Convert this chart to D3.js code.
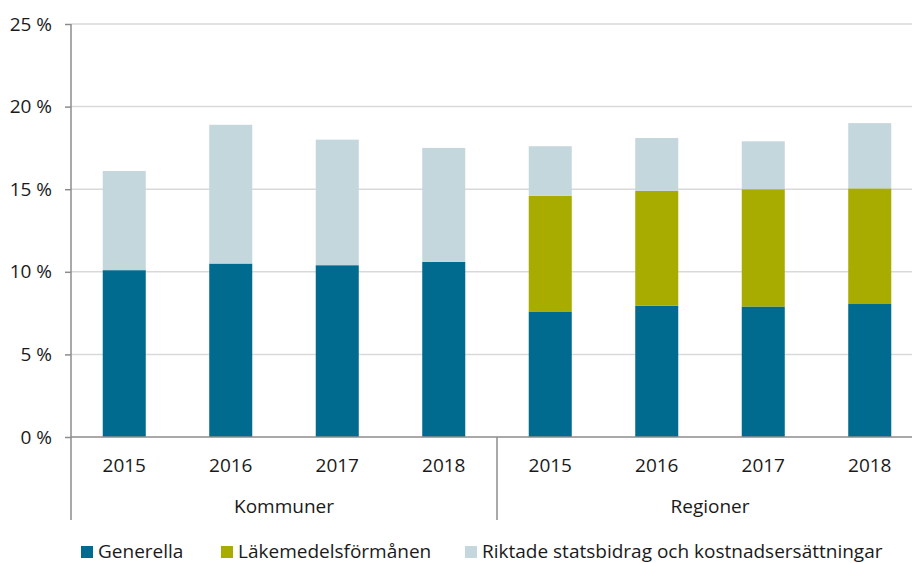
<!DOCTYPE html>
<html>
<head>
<meta charset="utf-8">
<script src="https://cdn.jsdelivr.net/npm/d3@7"></script>
<style>
  body { margin: 0; background: #fff; overflow: hidden; }
  text { font-family: "Open Sans", sans-serif; fill: #1a1a1a; }
</style>
</head>
<body>
<div id="chart"></div>
<script>
// andel av intäkter, procent
const groups = ["Kommuner", "Regioner"];
const years = ["2015", "2016", "2017", "2018"];
const seriesNames = ["Generella", "Läkemedelsförmånen", "Riktade statsbidrag och kostnadsersättningar"];
const generella = [10.1, 10.5, 10.4, 10.6, 7.6, 7.95, 7.9, 8.05];
const lakemedel = [0, 0, 0, 0, 7.0, 6.95, 7.1, 7.0];
const riktade = [6.0, 8.4, 7.6, 6.9, 3.0, 3.2, 2.9, 3.95];
const yTicks = [0, 5, 10, 15, 20, 25];

const colors = ["#006b8e", "#a8ab00", "#c4d7dd"];
const fontSize = "19px";

const width = 912, height = 563,
      margin = ({ top: 24, right: -11, bottom: 126, left: 71 });

// one row per bar
const data = [];
groups.forEach((g, gi) => years.forEach((yr, yi) => {
    const i = gi * years.length + yi;
    data.push({ key: g + " " + yr, group: g, year: yr,
        [seriesNames[0]]: generella[i],
        [seriesNames[1]]: lakemedel[i],
        [seriesNames[2]]: riktade[i] });
}));

const svg = d3.select("#chart")
    .append("svg")
    .attr("width", width)
    .attr("height", height);

const x = d3.scaleBand()
    .domain(data.map(d => d.key))
    .range([margin.left, width - margin.right])
    .paddingInner(0.596)
    .paddingOuter(0.298);

const y = d3.scaleLinear()
    .domain([0, 25])
    .range([height - margin.bottom, margin.top]);

// gridlines
svg.append("g")
    .selectAll("line")
    .data(yTicks.slice(1))
    .join("line")
    .attr("x1", margin.left)
    .attr("x2", width)
    .attr("y1", d => y(d))
    .attr("y2", d => y(d))
    .attr("stroke", "#d9d9d9")
    .attr("stroke-width", 1.5);

const stacked = d3.stack().keys(seriesNames)(data);

svg.append("g")
    .selectAll("g")
    .data(stacked)
    .join("g")
    .attr("fill", (d, i) => colors[i])
    .selectAll("rect")
    .data(d => d)
    .join("rect")
    .attr("x", d => x(d.data.key))
    .attr("width", x.bandwidth())
    .attr("y", d => y(d[1]))
    .attr("height", d => y(d[0]) - y(d[1]));

// y axis
const yAxis = svg.append("g")
    .attr("transform", `translate(${margin.left},0)`)
    .call(d3.axisLeft(y).tickValues(yTicks).tickFormat(d => d + " %").tickSize(6).tickPadding(13));
yAxis.select(".domain").remove();
yAxis.selectAll("line").attr("stroke", "#8c8c8c").attr("stroke-width", 1.5);
yAxis.selectAll("text").style("font-size", fontSize).attr("fill", "#1a1a1a");

const axisBottom = height - margin.bottom;
const groupLineEnd = 520;

// axis lines
svg.append("line")
    .attr("x1", margin.left).attr("x2", margin.left)
    .attr("y1", margin.top).attr("y2", groupLineEnd)
    .attr("stroke", "#8c8c8c").attr("stroke-width", 1.5);
svg.append("line")
    .attr("x1", margin.left).attr("x2", width)
    .attr("y1", axisBottom).attr("y2", axisBottom)
    .attr("stroke", "#8c8c8c").attr("stroke-width", 1.5);

// divider between groups
const step = x.step();
const divX = x(data[years.length].key) - (step - x.bandwidth()) / 2;
svg.append("line")
    .attr("x1", divX).attr("x2", divX)
    .attr("y1", axisBottom).attr("y2", groupLineEnd)
    .attr("stroke", "#8c8c8c").attr("stroke-width", 1.5);

// year labels
svg.append("g")
    .selectAll("text")
    .data(data)
    .join("text")
    .attr("x", d => x(d.key) + x.bandwidth() / 2)
    .attr("y", 472)
    .attr("text-anchor", "middle")
    .style("font-size", fontSize)
    .text(d => d.year);

// group labels
svg.append("g")
    .selectAll("text")
    .data(groups)
    .join("text")
    .attr("x", g => {
        const keys = data.filter(d => d.group === g).map(d => x(d.key));
        return (d3.min(keys) + d3.max(keys) + x.bandwidth()) / 2;
    })
    .attr("y", 513)
    .attr("text-anchor", "middle")
    .style("font-size", fontSize)
    .text(g => g);

// legend
const legendX = [81, 221, 465];
const legend = svg.append("g")
    .selectAll("g")
    .data(seriesNames)
    .join("g")
    .attr("transform", (d, i) => `translate(${legendX[i]},546)`);
legend.append("rect")
    .attr("width", 12).attr("height", 12)
    .attr("fill", (d, i) => colors[i]);
legend.append("text")
    .attr("x", 17)
    .attr("y", 12)
    .style("font-size", fontSize)
    .text(d => d);
</script>
</body>
</html>
